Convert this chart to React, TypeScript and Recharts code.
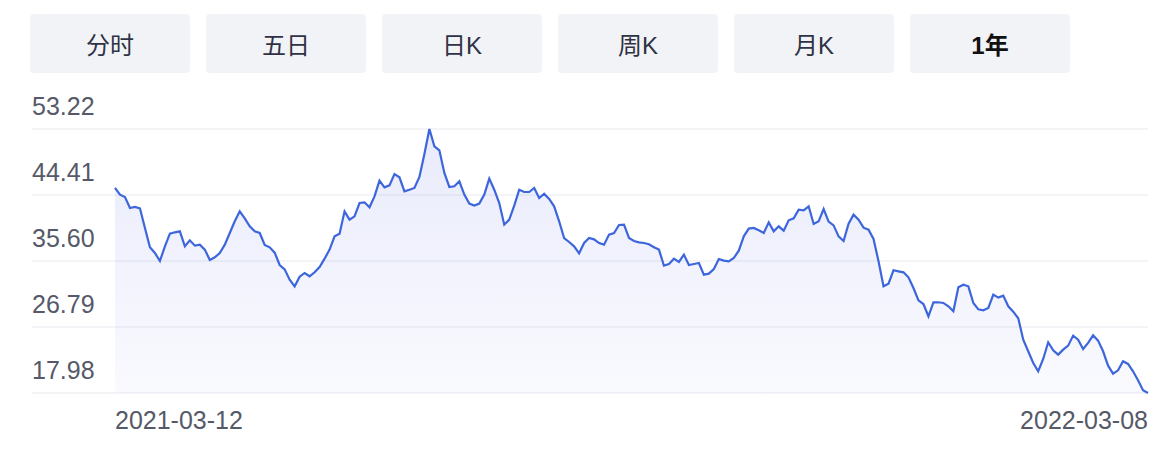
import { AreaChart, Area, XAxis, YAxis, CartesianGrid } from 'recharts';

// period tabs above the chart
const tabs = ['分时', '五日', '日K', '周K', '月K', '1年'];
const activeTab = '1年';

// first and last trading day shown on the x axis
const dateLabels = ['2021-03-12', '2022-03-08'];

// price levels on the y axis (min .. max)
const priceTicks = [17.98, 26.79, 35.6, 44.41, 53.22];

// closing prices at even steps
const prices = [
  45.35, 44.46, 44.14, 42.68, 42.81, 42.63, 40.01, 37.43, 36.67, 35.6,
  37.56, 39.25, 39.43, 39.56, 37.56, 38.36, 37.65, 37.78, 37.12, 35.74,
  36.09, 36.67, 37.78, 39.34, 40.9, 42.23, 41.3, 40.23, 39.56, 39.34,
  37.74, 37.43, 36.71, 35.07, 34.49, 33.11, 32.22, 33.51, 34.0, 33.56,
  34.09, 34.8, 35.91, 37.12, 38.89, 39.25, 42.23, 41.12, 41.56, 43.34,
  43.43, 42.77, 44.23, 46.32, 45.43, 45.7, 47.21, 46.77, 44.9, 45.12,
  45.35, 46.81, 49.88, 53.22, 50.91, 50.37, 47.35, 45.48, 45.57, 46.24,
  44.46, 43.26, 42.99, 43.26, 44.46, 46.59, 45.12, 43.34, 40.45, 41.12,
  42.99, 45.12, 44.81, 44.81, 45.35, 44.01, 44.59, 43.88, 42.9, 40.9,
  38.67, 38.14, 37.56, 36.63, 38.0, 38.67, 38.49, 38.0, 37.78, 39.12,
  39.34, 40.41, 40.45, 38.67, 38.27, 38.09, 38.0, 37.83, 37.43, 37.12,
  34.98, 35.2, 35.91, 35.47, 36.45, 35.07, 35.2, 35.34, 33.78, 33.91,
  34.53, 35.87, 35.65, 35.56, 36.0, 36.98, 38.89, 39.92, 40.01, 39.7,
  39.34, 40.76, 39.56, 40.23, 39.65, 41.03, 41.3, 42.45, 42.37, 42.9,
  40.54, 40.9, 42.54, 40.85, 40.36, 38.89, 38.27, 40.59, 41.79, 41.12,
  40.05, 39.78, 38.54, 35.56, 32.22, 32.58, 34.36, 34.22, 34.09, 33.42,
  32.0, 30.35, 29.86, 28.22, 30.09, 30.09, 30.0, 29.55, 28.88, 32.09,
  32.44, 32.22, 30.0, 29.15, 29.02, 29.33, 31.11, 30.71, 30.98, 29.55,
  28.84, 27.95, 25.1, 23.55, 21.99, 20.88, 22.52, 24.75, 23.68, 23.1,
  23.77, 24.3, 25.64, 25.1, 23.86, 24.66, 25.68, 24.97, 23.55, 21.63,
  20.57, 21.01, 22.21, 21.86, 20.88, 19.68, 18.34, 17.98,
];

const data = prices.map((price, i) => ({ i, price }));
const lastIndex = prices.length - 1;

const FONT = '"Liberation Sans", "Noto Sans CJK SC", sans-serif';
const LABEL_COLOR = '#555968';

// y labels sit just above their grid line, left aligned with it
function PriceTick({ x, y, payload }: any) {
  return (
    <text x={x} y={y} dy={-14} textAnchor="start" fill={LABEL_COLOR} fontSize={25} fontFamily={FONT}>
      {Number(payload.value).toFixed(2)}
    </text>
  );
}

function DateTick({ x, y, payload }: any) {
  const isFirst = payload.value === 0;
  return (
    <text
      x={x}
      y={y}
      dy={28}
      textAnchor={isFirst ? 'start' : 'end'}
      fill={LABEL_COLOR}
      fontSize={25}
      fontFamily={FONT}
    >
      {isFirst ? dateLabels[0] : dateLabels[1]}
    </text>
  );
}

export default function App() {
  return (
    <div style={{ position: 'relative', width: 1154, height: 438, background: '#fff', fontFamily: FONT }}>
      <div style={{ position: 'absolute', left: 22, top: 6, display: 'flex', gap: 16 }}>
        {tabs.map((tab) => (
          <div
            key={tab}
            style={{
              width: 160,
              height: 59,
              borderRadius: 4,
              background: '#f2f3f6',
              display: 'flex',
              alignItems: 'center',
              justifyContent: 'center',
              fontSize: 24,
              color: tab === activeTab ? '#111' : '#2f3244',
              fontWeight: tab === activeTab ? 700 : 400,
            }}
          >
            {tab}
          </div>
        ))}
      </div>
      <div style={{ position: 'absolute', left: 0, top: 0 }}>
        <AreaChart width={1154} height={438} data={data} margin={{ top: 121, right: 14, left: 23, bottom: 0 }}>
          <defs>
            <linearGradient id="priceFill" x1="0" y1="0" x2="0" y2="1">
              <stop offset="0%" stopColor="#6573e6" stopOpacity={0.24} />
              <stop offset="100%" stopColor="#6573e6" stopOpacity={0.06} />
            </linearGradient>
          </defs>
          <CartesianGrid vertical={false} stroke="#e8e9ef" />
          <XAxis
            dataKey="i"
            type="number"
            domain={[0, lastIndex]}
            ticks={[0, lastIndex]}
            padding={{ left: 83, right: 0 }}
            axisLine={false}
            tickLine={false}
            tick={<DateTick />}
            height={53}
          />
          <YAxis
            type="number"
            domain={[priceTicks[0], priceTicks[priceTicks.length - 1]]}
            ticks={priceTicks}
            width={1}
            axisLine={false}
            tickLine={false}
            tickSize={0}
            tickMargin={0}
            tick={<PriceTick />}
          />
          <Area
            type="linear"
            dataKey="price"
            stroke="#3d66dc"
            strokeWidth={2.2}
            fill="url(#priceFill)"
            baseValue="dataMin"
            isAnimationActive={false}
            dot={false}
            activeDot={false}
          />
        </AreaChart>
      </div>
    </div>
  );
}
